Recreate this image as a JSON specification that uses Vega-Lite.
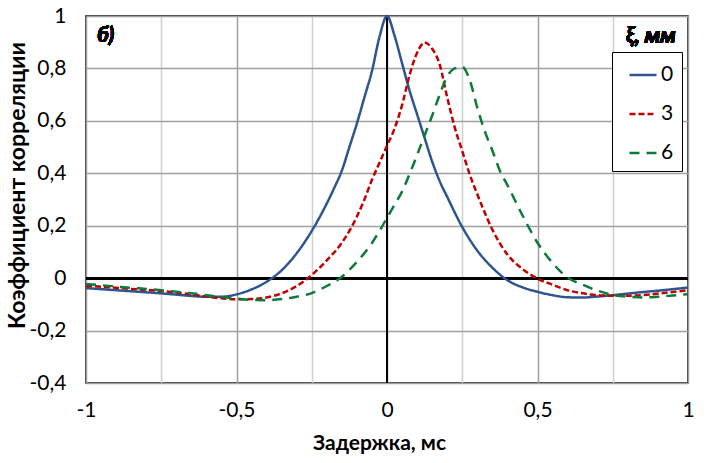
{
  "$schema": "https://vega.github.io/schema/vega-lite/v6.json",
  "width": 602,
  "height": 367,
  "autosize": "none",
  "padding": {"left": 86, "top": 16, "right": 22, "bottom": 80},
  "background": "white",
  "config": {
    "font": "Lato",
    "view": {"stroke": "black", "strokeWidth": 1.5},
    "axis": {"labelColor": "black", "titleColor": "black", "labelFont": "Lato", "titleFont": "Lato"},
    "legend": {
      "orient": "none",
      "legendX": 526,
      "legendY": 36,
      "strokeColor": "black",
      "fillColor": "white",
      "padding": 8,
      "symbolType": "stroke",
      "symbolSize": 729,
      "symbolStrokeWidth": 2.5,
      "symbolOffset": 8,
      "labelFontSize": 21,
      "labelColor": "black",
      "labelOffset": 3,
      "rowPadding": 14
    }
  },
  "data": {
    "values": [
      {"x": -1, "y": -0.038, "s": "0"},
      {"x": -0.95, "y": -0.042, "s": "0"},
      {"x": -0.9, "y": -0.046, "s": "0"},
      {"x": -0.85, "y": -0.05, "s": "0"},
      {"x": -0.8, "y": -0.054, "s": "0"},
      {"x": -0.75, "y": -0.058, "s": "0"},
      {"x": -0.7, "y": -0.063, "s": "0"},
      {"x": -0.65, "y": -0.068, "s": "0"},
      {"x": -0.6, "y": -0.071, "s": "0"},
      {"x": -0.55, "y": -0.071, "s": "0"},
      {"x": -0.5, "y": -0.062, "s": "0"},
      {"x": -0.45, "y": -0.043, "s": "0"},
      {"x": -0.4, "y": -0.014, "s": "0"},
      {"x": -0.35, "y": 0.03, "s": "0"},
      {"x": -0.3, "y": 0.095, "s": "0"},
      {"x": -0.25, "y": 0.18, "s": "0"},
      {"x": -0.2, "y": 0.285, "s": "0"},
      {"x": -0.175, "y": 0.345, "s": "0"},
      {"x": -0.15, "y": 0.41, "s": "0"},
      {"x": -0.125, "y": 0.5, "s": "0"},
      {"x": -0.1, "y": 0.59, "s": "0"},
      {"x": -0.075, "y": 0.69, "s": "0"},
      {"x": -0.05, "y": 0.79, "s": "0"},
      {"x": -0.025, "y": 0.92, "s": "0"},
      {"x": 0, "y": 1, "s": "0"},
      {"x": 0.025, "y": 0.925, "s": "0"},
      {"x": 0.05, "y": 0.82, "s": "0"},
      {"x": 0.075, "y": 0.715, "s": "0"},
      {"x": 0.1, "y": 0.625, "s": "0"},
      {"x": 0.125, "y": 0.535, "s": "0"},
      {"x": 0.15, "y": 0.445, "s": "0"},
      {"x": 0.175, "y": 0.37, "s": "0"},
      {"x": 0.2, "y": 0.31, "s": "0"},
      {"x": 0.25, "y": 0.195, "s": "0"},
      {"x": 0.3, "y": 0.105, "s": "0"},
      {"x": 0.35, "y": 0.04, "s": "0"},
      {"x": 0.4, "y": -0.008, "s": "0"},
      {"x": 0.45, "y": -0.035, "s": "0"},
      {"x": 0.5, "y": -0.052, "s": "0"},
      {"x": 0.55, "y": -0.065, "s": "0"},
      {"x": 0.6, "y": -0.073, "s": "0"},
      {"x": 0.65, "y": -0.074, "s": "0"},
      {"x": 0.7, "y": -0.07, "s": "0"},
      {"x": 0.75, "y": -0.065, "s": "0"},
      {"x": 0.8, "y": -0.059, "s": "0"},
      {"x": 0.85, "y": -0.053, "s": "0"},
      {"x": 0.9, "y": -0.048, "s": "0"},
      {"x": 0.95, "y": -0.042, "s": "0"},
      {"x": 1, "y": -0.036, "s": "0"},

      {"x": -1, "y": -0.029, "s": "3"},
      {"x": -0.95, "y": -0.033, "s": "3"},
      {"x": -0.9, "y": -0.037, "s": "3"},
      {"x": -0.85, "y": -0.041, "s": "3"},
      {"x": -0.8, "y": -0.045, "s": "3"},
      {"x": -0.75, "y": -0.049, "s": "3"},
      {"x": -0.7, "y": -0.055, "s": "3"},
      {"x": -0.65, "y": -0.062, "s": "3"},
      {"x": -0.6, "y": -0.07, "s": "3"},
      {"x": -0.55, "y": -0.077, "s": "3"},
      {"x": -0.5, "y": -0.081, "s": "3"},
      {"x": -0.45, "y": -0.08, "s": "3"},
      {"x": -0.4, "y": -0.074, "s": "3"},
      {"x": -0.35, "y": -0.058, "s": "3"},
      {"x": -0.3, "y": -0.03, "s": "3"},
      {"x": -0.25, "y": 0.012, "s": "3"},
      {"x": -0.2, "y": 0.068, "s": "3"},
      {"x": -0.15, "y": 0.135, "s": "3"},
      {"x": -0.125, "y": 0.18, "s": "3"},
      {"x": -0.1, "y": 0.235, "s": "3"},
      {"x": -0.075, "y": 0.3, "s": "3"},
      {"x": -0.05, "y": 0.375, "s": "3"},
      {"x": -0.025, "y": 0.44, "s": "3"},
      {"x": 0, "y": 0.505, "s": "3"},
      {"x": 0.025, "y": 0.57, "s": "3"},
      {"x": 0.05, "y": 0.66, "s": "3"},
      {"x": 0.075, "y": 0.775, "s": "3"},
      {"x": 0.1, "y": 0.86, "s": "3"},
      {"x": 0.125, "y": 0.899, "s": "3"},
      {"x": 0.15, "y": 0.875, "s": "3"},
      {"x": 0.175, "y": 0.815, "s": "3"},
      {"x": 0.2, "y": 0.69, "s": "3"},
      {"x": 0.225, "y": 0.575, "s": "3"},
      {"x": 0.25, "y": 0.485, "s": "3"},
      {"x": 0.275, "y": 0.395, "s": "3"},
      {"x": 0.3, "y": 0.32, "s": "3"},
      {"x": 0.35, "y": 0.185, "s": "3"},
      {"x": 0.4, "y": 0.09, "s": "3"},
      {"x": 0.45, "y": 0.035, "s": "3"},
      {"x": 0.5, "y": -0.002, "s": "3"},
      {"x": 0.55, "y": -0.025, "s": "3"},
      {"x": 0.6, "y": -0.046, "s": "3"},
      {"x": 0.65, "y": -0.058, "s": "3"},
      {"x": 0.7, "y": -0.065, "s": "3"},
      {"x": 0.75, "y": -0.067, "s": "3"},
      {"x": 0.8, "y": -0.067, "s": "3"},
      {"x": 0.85, "y": -0.065, "s": "3"},
      {"x": 0.9, "y": -0.059, "s": "3"},
      {"x": 0.95, "y": -0.053, "s": "3"},
      {"x": 1, "y": -0.046, "s": "3"},

      {"x": -1, "y": -0.023, "s": "6"},
      {"x": -0.95, "y": -0.027, "s": "6"},
      {"x": -0.9, "y": -0.032, "s": "6"},
      {"x": -0.85, "y": -0.037, "s": "6"},
      {"x": -0.8, "y": -0.041, "s": "6"},
      {"x": -0.75, "y": -0.046, "s": "6"},
      {"x": -0.7, "y": -0.052, "s": "6"},
      {"x": -0.65, "y": -0.058, "s": "6"},
      {"x": -0.6, "y": -0.065, "s": "6"},
      {"x": -0.55, "y": -0.072, "s": "6"},
      {"x": -0.5, "y": -0.078, "s": "6"},
      {"x": -0.45, "y": -0.083, "s": "6"},
      {"x": -0.4, "y": -0.084, "s": "6"},
      {"x": -0.35, "y": -0.08, "s": "6"},
      {"x": -0.3, "y": -0.071, "s": "6"},
      {"x": -0.25, "y": -0.057, "s": "6"},
      {"x": -0.2, "y": -0.03, "s": "6"},
      {"x": -0.15, "y": 0.005, "s": "6"},
      {"x": -0.1, "y": 0.062, "s": "6"},
      {"x": -0.05, "y": 0.134, "s": "6"},
      {"x": -0.025, "y": 0.18, "s": "6"},
      {"x": 0, "y": 0.23, "s": "6"},
      {"x": 0.025, "y": 0.28, "s": "6"},
      {"x": 0.05, "y": 0.33, "s": "6"},
      {"x": 0.075, "y": 0.397, "s": "6"},
      {"x": 0.1, "y": 0.47, "s": "6"},
      {"x": 0.125, "y": 0.545, "s": "6"},
      {"x": 0.15, "y": 0.62, "s": "6"},
      {"x": 0.175, "y": 0.7, "s": "6"},
      {"x": 0.2, "y": 0.77, "s": "6"},
      {"x": 0.225, "y": 0.8, "s": "6"},
      {"x": 0.25, "y": 0.806, "s": "6"},
      {"x": 0.275, "y": 0.755, "s": "6"},
      {"x": 0.3, "y": 0.65, "s": "6"},
      {"x": 0.325, "y": 0.56, "s": "6"},
      {"x": 0.35, "y": 0.487, "s": "6"},
      {"x": 0.375, "y": 0.41, "s": "6"},
      {"x": 0.4, "y": 0.355, "s": "6"},
      {"x": 0.45, "y": 0.24, "s": "6"},
      {"x": 0.5, "y": 0.135, "s": "6"},
      {"x": 0.55, "y": 0.058, "s": "6"},
      {"x": 0.6, "y": 0.002, "s": "6"},
      {"x": 0.65, "y": -0.025, "s": "6"},
      {"x": 0.7, "y": -0.048, "s": "6"},
      {"x": 0.75, "y": -0.064, "s": "6"},
      {"x": 0.8, "y": -0.071, "s": "6"},
      {"x": 0.85, "y": -0.074, "s": "6"},
      {"x": 0.9, "y": -0.071, "s": "6"},
      {"x": 0.95, "y": -0.066, "s": "6"},
      {"x": 1, "y": -0.061, "s": "6"}
    ]
  },
  "layer": [
    {
      "mark": {"type": "rule", "color": "black", "strokeWidth": 2},
      "encoding": {"y": {"datum": 0}}
    },
    {
      "mark": {"type": "rule", "color": "black", "strokeWidth": 2},
      "encoding": {"x": {"datum": 0}}
    },
    {
      "mark": {"type": "line", "strokeWidth": 2.5, "interpolate": "monotone"},
      "encoding": {
        "x": {
          "field": "x",
          "type": "quantitative",
          "scale": {"domain": [-1, 1], "nice": false},
          "axis": {
            "values": [-1, -0.75, -0.5, -0.25, 0, 0.25, 0.5, 0.75, 1],
            "labelExpr": "datum.value % 0.5 == 0 ? replace(toString(datum.value), '.', ',') : ''",
            "grid": true,
            "gridColor": {"condition": {"test": "datum.value % 0.5 != 0", "value": "#d0d0d0"}, "value": "#a0a0a0"},
            "gridWidth": 1.5,
            "gridOpacity": 1,
            "ticks": false,
            "domain": false,
            "labelFlush": false,
            "labelOverlap": false,
            "labelPadding": 16,
            "labelFontSize": 21,
            "title": "Задержка, мс",
            "titleFontSize": 21,
            "titleFontWeight": "bold",
            "titleX": 293,
            "titleY": 60,
            "titleBaseline": "middle"
          }
        },
        "y": {
          "field": "y",
          "type": "quantitative",
          "scale": {"domain": [-0.4, 1], "nice": false},
          "axis": {
            "values": [-0.4, -0.2, 0, 0.2, 0.4, 0.6, 0.8, 1],
            "labelExpr": "replace(toString(datum.value), '.', ',')",
            "grid": true,
            "gridColor": "#a0a0a0",
            "gridWidth": 1.5,
            "gridOpacity": 1,
            "ticks": false,
            "domain": false,
            "labelOverlap": false,
            "labelPadding": 20,
            "labelFontSize": 21,
            "title": "Коэффициент корреляции",
            "titleFontSize": 23,
            "titleFontWeight": "bold",
            "titleX": -69,
            "titleY": 169,
            "titleBaseline": "middle"
          }
        },
        "color": {
          "field": "s",
          "type": "nominal",
          "scale": {"domain": ["0", "3", "6"], "range": ["#2E5590", "#C00000", "#0B7A3A"]},
          "legend": {"title": null}
        },
        "strokeDash": {
          "field": "s",
          "type": "nominal",
          "scale": {"domain": ["0", "3", "6"], "range": [[1, 0], [6, 3], [10, 7]]},
          "legend": {"title": null}
        }
      }
    },
    {
      "mark": {"type": "text", "text": "б)", "fontSize": 21, "fontWeight": "bold", "fontStyle": "italic", "align": "left", "baseline": "middle", "color": "black"},
      "encoding": {"x": {"datum": -0.963}, "y": {"datum": 0.925}}
    },
    {
      "mark": {"type": "text", "text": "ξ, мм", "fontSize": 22, "fontWeight": "bold", "fontStyle": "italic", "align": "center", "baseline": "middle", "color": "black"},
      "encoding": {"x": {"datum": 0.877}, "y": {"datum": 0.922}}
    }
  ]
}
